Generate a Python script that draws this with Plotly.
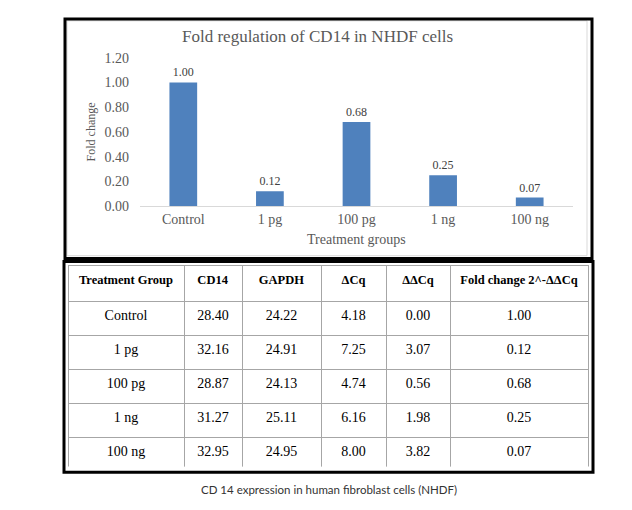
import plotly.graph_objects as go

W, H = 632, 510
OFF = 8  # page body margin in the browser

groups = ["Control", "1 pg", "100 pg", "1 ng", "100 ng"]
fold_change = [1.00, 0.12, 0.68, 0.25, 0.07]
yticks = [0.0, 0.2, 0.4, 0.6, 0.8, 1.0, 1.2]

table_header = ["Treatment Group", "CD14", "GAPDH", "ΔCq", "ΔΔCq", "Fold change 2^-ΔΔCq"]
cd14 = ["28.40", "32.16", "28.87", "31.27", "32.95"]
gapdh = ["24.22", "24.91", "24.13", "25.11", "24.95"]
dcq = ["4.18", "7.25", "4.74", "6.16", "8.00"]
ddcq = ["0.00", "3.07", "0.56", "1.98", "3.82"]
fold_txt = ["1.00", "0.12", "0.68", "0.25", "0.07"]

title = "Fold regulation of CD14 in NHDF cells"
caption = "CD 14 expression in human fibroblast cells (NHDF)"


def px(x):
    return (x - OFF) / W


def py(y):
    return 1 - (y - OFF) / H


SERIF = "Liberation Serif"
GREY = "#595959"

fig = go.Figure()

fig.add_trace(go.Bar(
    x=groups, y=fold_change,
    marker=dict(color="#4f81bd", line=dict(width=0)),
    text=[f"{v:.2f}" for v in fold_change],
    textposition="outside",
    textfont=dict(family=SERIF, size=12, color="#404040"),
    cliponaxis=False,
    width=0.32,
    xaxis="x", yaxis="y",
))

fig.add_trace(go.Table(
    domain=dict(x=[px(68), px(588)], y=[py(474), py(266)]),
    columnwidth=[116, 58, 79, 65, 64, 138],
    header=dict(
        values=[f"<b>{h}</b>" for h in table_header],
        align="center",
        height=36,
        fill=dict(color="white"),
        line=dict(color="#a6a6a6", width=1),
        font=dict(family=SERIF, size=12.5, color="black"),
    ),
    cells=dict(
        values=[groups, cd14, gapdh, dcq, ddcq, fold_txt],
        align="center",
        height=34,
        fill=dict(color="white"),
        line=dict(color="#a6a6a6", width=1),
        font=dict(family=SERIF, size=14, color="black"),
    ),
))

fig.update_layout(
    width=W, height=H,
    margin=dict(l=0, r=0, t=0, b=0),
    paper_bgcolor="white", plot_bgcolor="white",
    showlegend=False,
    bargap=0.68,
    xaxis=dict(
        domain=[px(140), px(573)],
        anchor="y",
        showgrid=False, showline=True, linecolor="#d9d9d9", linewidth=1,
        ticks="", zeroline=False,
        tickfont=dict(family=SERIF, size=14, color=GREY),
        fixedrange=True,
    ),
    yaxis=dict(
        domain=[py(205), py(52)],
        anchor="x",
        range=[0, 1.2],
        tickvals=yticks,
        tickformat=".2f",
        showgrid=False, showline=False, zeroline=False,
        ticks="", ticklabelstandoff=10,
        tickfont=dict(family=SERIF, size=14, color=GREY),
        fixedrange=True,
    ),
    shapes=[
        dict(type="rect", xref="paper", yref="paper",
             x0=px(67), x1=px(587), y0=py(256), y1=py(14),
             line=dict(color="#d9d9d9", width=1)),
        dict(type="rect", xref="paper", yref="paper",
             x0=px(65), x1=px(592), y0=py(259), y1=py(12),
             line=dict(color="black", width=3)),
        dict(type="rect", xref="paper", yref="paper",
             x0=px(64), x1=px(593), y0=py(479), y1=py(262),
             line=dict(color="black", width=3)),
    ],
    annotations=[
        dict(text=title, xref="paper", yref="paper", x=px(317), y=py(30),
             showarrow=False, xanchor="center", yanchor="middle",
             font=dict(family=SERIF, size=17, color=GREY)),
        dict(text="Fold change", xref="paper", yref="paper", x=px(91), y=py(129),
             showarrow=False, xanchor="center", yanchor="middle", textangle=-90,
             font=dict(family=SERIF, size=12, color=GREY)),
        dict(text="Treatment groups", xref="paper", yref="paper", x=px(357), y=py(239),
             showarrow=False, xanchor="center", yanchor="middle",
             font=dict(family=SERIF, size=14, color=GREY)),
        dict(text=caption, xref="paper", yref="paper", x=px(329), y=py(497),
             showarrow=False, xanchor="center", yanchor="middle",
             font=dict(family="Lato", size=11.5, color="#333333")),
    ],
)

fig.write_html("out.html")
